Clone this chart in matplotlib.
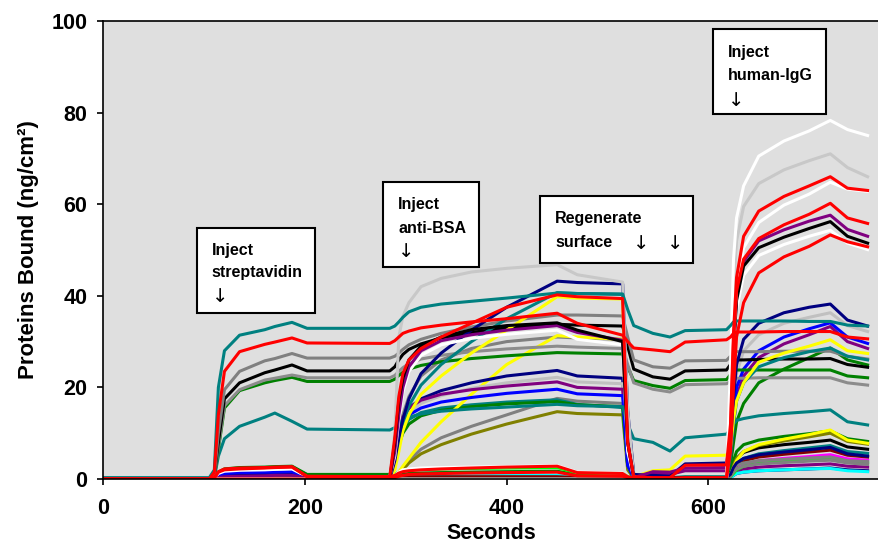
import matplotlib
matplotlib.use("Agg")
import matplotlib.pyplot as plt
from matplotlib.patches import Rectangle

plt.rcParams['font.family'] = ['Liberation Sans', 'DejaVu Sans']
plt.rcParams['font.weight'] = 'bold'

# time grid (s) shared by all sensor traces
seconds = [0, 105, 110, 114, 120, 135, 160, 170, 187, 202,
           284, 289, 293, 297, 303, 315, 335, 365, 400, 450, 470, 515,
           520, 526, 545, 562, 577, 618,
           622, 625, 628, 635, 650, 675, 700, 721, 738, 758]

# traces (ng/cm2)
teal_a = [0.3, 0.3, 2, 20, 28, 31.4, 32.6, 33.3, 34.2, 32.9,
          32.9, 33.4, 34.3, 35.3, 36.5, 37.5, 38.2, 38.8, 39.5, 40.6, 40.5, 40.4,
          37, 33.5, 31.8, 31.0, 32.4, 32.6,
          33.5, 34.3, 34.5, 34.5, 34.5, 34.5, 34.4, 34.4, 33.6, 33.4]
red_a = [0, 0, 1.5, 14, 23.5, 27.8, 29.4, 29.9, 30.8, 29.7,
         29.6, 30.2, 31, 31.8, 32.3, 33, 33.6, 34.3, 35, 36.2, 34, 31.4,
         30, 28.6, 28.2, 27.8, 29.9, 30.4,
         31, 31.8, 32.1, 32.1, 32.1, 32.2, 32.2, 32.2, 31, 30.6]
gray_a = [0, 0, 1, 10, 19.5, 23.5, 25.8, 26.3, 27.4, 26.4,
          26.4, 26.8, 27.5, 28.3, 29.3, 30.5, 31.8, 33.2, 34.5, 35.8, 35.8, 35.6,
          31, 26, 24.5, 24.2, 25.8, 25.9,
          26.8, 27.5, 27.8, 27.8, 27.8, 27.9, 27.9, 27.9, 26.8, 26.2]
black_a = [0, 0, 0.8, 8, 17.5, 21, 23.2, 23.8, 24.9, 23.6,
           23.6, 24.5, 26, 27.2, 28.3, 29.5, 30.8, 32, 33, 33.8, 33.6, 33.4,
           29, 24, 22.3, 21.8, 23.6, 23.8,
           25, 25.8, 26, 26, 26.1, 26.2, 26.2, 26.3, 25, 24.4]
gray_b = [0, 0, 0.6, 7, 16, 19.5, 21.6, 22, 22.7, 22.1,
          22.1, 22.6, 23.5, 24.3, 25.2, 26.2, 27, 27.8, 28.4, 29, 28.8, 28.5,
          25, 21, 19.6, 19.0, 20.6, 20.8,
          21.3, 21.8, 22, 22, 22.1, 22.1, 22.1, 22.1, 21, 20.5]
green_a = [0, 0, 0.5, 6.5, 15.5, 19.3, 21, 21.5, 22.2, 21.3,
           21.3, 21.8, 22.6, 23.3, 24, 24.8, 25.6, 26.3, 26.9, 27.6, 27.5, 27.3,
           24.5, 21.5, 20.4, 19.8, 21.5, 21.7,
           22.8, 23.5, 23.8, 23.8, 23.8, 23.8, 23.8, 23.8, 22.5, 22.1]
teal_b = [0.2, 0, 0.3, 5, 8.8, 11.5, 13.5, 14.4, 12.6, 10.9,
          10.7, 11.2, 12, 12.8, 13.5, 14.2, 14.8, 15.3, 15.7, 16.3, 16, 15.8,
          12, 8.8, 8.0, 6.1, 9.0, 9.8,
          10.8, 12, 12.8, 13.2, 13.8, 14.3, 14.7, 15.1, 12.5, 11.8]
silver_a = [0, 0, 0, 0, 0, 0, 0, 0, 0, 0,
            0, 10, 31, 35.5, 38.5, 42, 43.8, 45.2, 46, 46.8, 44.6, 43,
            15, 0.5, 0, 0, 0, 0,
            22, 42, 52, 59.5, 64.5, 67.5, 69.5, 71, 68, 66]
white_a = [0, 0, 0, 0, 0, 0, 0, 0, 0, 0,
           0, 0, 0, 0, 0, 0, 0, 0, 0, 0, 0, 0,
           0, 0, 0, 0, 0, 0,
           25, 48, 57, 64, 70.5, 73.8, 76, 78.3, 76.3, 75]
navy_a = [0, 0, 0, 0, 0, 0, 0, 0, 0, 0,
          0, 4, 9, 13, 17.5, 23, 27.5, 32.5, 37.5, 43.2, 42.9, 42.6,
          15, 1, 0.8, 0.6, 3.3, 3.5,
          8, 18, 25, 30.5, 34, 36.3, 37.5, 38.2, 34.7, 33.4]
red_b = [0, 0, 0.3, 1.5, 2, 2.2, 2.4, 2.5, 2.6, 0.6,
         0.5, 9, 18, 23, 26, 28.5, 31, 34, 37.5, 40.2, 39.8, 39.4,
         8, 0.5, 0.3, 0.3, 3.0, 3.1,
         12, 32, 44, 53, 58.5, 61.7, 64, 66, 63.5, 63]
yellow_a = [0, 0, 0, 0, 0, 0, 0, 0, 0, 0,
            0, 2, 6, 10.5, 14, 18.5, 22.5, 27.5, 32.5, 39.8, 39.5, 39.3,
            10, 0.5, 1.8, 2.0, 5.0, 5.2,
            7, 13, 17, 21, 25.5, 27.5, 29, 30.4, 28, 27.4]
teal_c = [0, 0, 0, 0, 0, 0, 0, 0, 0, 0,
          0, 3, 8, 12, 16, 20.5, 25, 30, 35, 40.7, 40.5, 40.3,
          14, 0.5, 0.3, 0.3, 0.5, 0.5,
          5, 12, 17, 21, 24.5, 26.5, 27.8, 28.6, 26.8, 26]
black_b = [0, 0, 0, 0, 0, 0, 0, 0, 0, 0,
           0, 8, 17, 22, 26, 29, 31, 32.6, 33.5, 34.1, 32.5, 30,
           8, 0.3, 0.2, 0.2, 0.3, 0.3,
           10, 28, 39, 46.5, 50.5, 52.8, 54.7, 56.2, 53, 51.5]
purple_a = [0, 0, 0, 0.3, 0.5, 0.6, 0.7, 0.8, 0.8, 0.2,
            0.2, 6, 14, 20, 24.5, 28, 30.2, 31.5, 32.5, 33.5, 32, 30.3,
            8, 0.3, 1.6, 1.5, 2.4, 2.5,
            10, 28, 40, 47.5, 52, 54.4, 56.3, 57.6, 54.5, 53]
white_b = [0, 0, 0.2, 1.2, 1.7, 1.9, 2.0, 2.1, 2.2, 0.5,
           0.5, 5, 13, 19, 23.5, 27, 29.3, 30.7, 31.6, 32.5, 30.5, 29.3,
           6, 0.3, 0, 0, 0, 0,
           9, 26, 37, 44.5, 48.8, 51.2, 53, 54.3, 51.5, 50.1]
gray_c = [0, 0, 0, 0, 0, 0, 0, 0, 0, 0,
          0, 3, 9, 14, 18, 22.5, 26, 28.5, 30, 31, 30.8, 30.5,
          6, 0.3, 0.3, 0.3, 0.3, 0.3,
          1, 2, 3, 3.5, 4, 4.3, 4.6, 4.8, 4, 3.8]
yellow_b = [0, 0, 0, 0, 0, 0, 0, 0, 0, 0,
            0, 0.5, 1.5, 2.8, 4.5, 8, 12.5, 18.5, 25, 31.3, 31, 30.5,
            5, 0.3, 0.3, 0.3, 0.3, 0.3,
            1, 2.5, 4, 6, 7.5, 8.7, 9.7, 10.7, 8.5, 7.8]
navy_b = [0, 0, 0.1, 0.6, 0.9, 1.0, 1.1, 1.2, 1.2, 0.2,
          0.2, 5, 10, 13, 15.5, 17.5, 19.3, 21, 22.5, 23.7, 22.5, 22,
          4, 0.3, 0.2, 0.2, 0.3, 0.3,
          1, 2.5, 3.5, 4.5, 5.3, 5.9, 6.4, 6.9, 5.5, 5]
silver_b = [0, 0, 0, 0, 0, 0, 0, 0, 0, 0,
            0, 4, 9, 12, 14.5, 16.5, 18.2, 19.8, 21, 22.2, 21.2, 20.8,
            4, 0.2, 0, 0, 0, 0,
            7, 16, 23, 28, 31.5, 34, 35.3, 36.3, 33.5, 32.2]
purple_b = [0, 0, 0, 0, 0, 0, 0, 0, 0, 0,
            0, 5, 10.5, 13.5, 15.5, 17.2, 18.5, 19.5, 20.3, 21.2, 20, 19.6,
            4, 0.3, 1.2, 1.0, 1.8, 1.8,
            5, 12, 18, 22.5, 26.5, 29.5, 31.5, 33.3, 30, 28.5]
blue_a = [0, 0, 0.1, 0.8, 1.2, 1.4, 1.5, 1.5, 1.6, 0.3,
          0.3, 4.5, 9.5, 12, 14, 15.5, 16.8, 17.8, 18.7, 19.6, 18.6, 18.2,
          3, 0.2, 0.2, 0.2, 0.3, 0.3,
          6, 13, 20, 24, 28, 31, 32.8, 34.1, 31, 29.6]
teal_d = [0, 0, 0, 0, 0, 0, 0, 0, 0, 0,
          0, 4, 8.5, 11, 13, 14.5, 15.5, 16.2, 16.8, 17.3, 16.3, 15.6,
          3, 0.3, 0.3, 0.3, 0.3, 0.3,
          1, 2.5, 3.5, 4.5, 5.5, 6.2, 6.8, 7.3, 6, 5.6]
green_b = [0, 0, 0.2, 1.5, 2.2, 2.5, 2.6, 2.7, 2.8, 1.0,
           1.0, 3.5, 7.5, 10, 12, 13.8, 15, 15.8, 16.4, 16.9, 16.2, 15.8,
           3, 0.3, 0.3, 0.3, 0.3, 0.3,
           3, 8, 12.5, 16.5, 21, 24, 26.5, 28.6, 26, 24.9]
gray_d = [0, 0, 0, 0, 0, 0, 0, 0, 0, 0,
          0, 0.5, 1.5, 2.5, 4, 6.5, 9, 11.5, 14, 17.6, 17, 16.5,
          3, 0.3, 0.3, 0.3, 0.3, 0.3,
          0.5, 1.5, 2.2, 2.8, 3.3, 3.6, 3.9, 4.1, 3.5, 3.2]
olive_a = [0, 0, 0, 0.1, 0.2, 0.3, 0.3, 0.4, 0.4, 0.1,
           0.1, 0.3, 1, 2, 3.5, 5.5, 7.5, 9.8, 12, 14.7, 14.3, 14,
           2, 0.2, 0.2, 0.2, 0.4, 0.4,
           1, 3, 4.5, 6, 7.3, 8.3, 9.2, 10, 8.2, 7.6]
lime_a = [0, 0, 0.2, 1.4, 2.1, 2.4, 2.5, 2.6, 2.7, 0.9,
          0.9, 1.0, 1.5, 1.8, 2.0, 2.1, 2.2, 2.3, 2.4, 2.5, 1.3, 1.2,
          0.5, 0.2, 0.2, 0.2, 0.3, 0.3,
          0.5, 1.2, 2, 2.8, 3.4, 3.8, 4.1, 4.5, 3.8, 3.5]
red_c = [0, 0, 0.3, 1.6, 2.2, 2.4, 2.5, 2.6, 2.7, 0.5,
         0.5, 0.8, 1.3, 1.6, 1.8, 2.0, 2.2, 2.4, 2.6, 2.8, 1.4, 1.2,
         0.5, 0.2, 0.2, 0.2, 0.3, 0.3,
         10, 30, 41, 48, 52.5, 55.5, 57.8, 60.2, 57, 55.8]
red_d = [0, 0, 0, 0, 0, 0, 0, 0, 0, 0,
         0, 0.3, 0.6, 0.8, 1, 1.1, 1.2, 1.3, 1.4, 1.5, 0.7, 0.6,
         0.3, 0.1, 0.1, 0.1, 0.1, 0.1,
         6, 20, 31, 38.5, 45, 48.5, 50.8, 53.3, 51.8, 50.7]
white_c = [0, 0, 0, 0, 0, 0, 0, 0, 0, 0,
           0, 0.8, 1.5, 2.0, 2.2, 2.4, 2.5, 2.6, 2.7, 2.9, 1.5, 1.3,
           0.3, 0, 0, 0, 0, 0,
           11, 30, 42, 50.5, 56, 59.8, 62.2, 64.8, 63.3, 62.8]
maroon_a = [0, 0, 0, 0, 0, 0, 0, 0, 0, 0,
            0, 0.2, 0.3, 0.4, 0.5, 0.5, 0.5, 0.5, 0.5, 0.5, 0.3, 0.3,
            0.1, 0, 0, 0, 0, 0,
            1, 2, 3, 4, 4.8, 5.4, 5.9, 6.3, 5.2, 4.8]
magenta_a = [0, 0, 0, 0, 0, 0, 0, 0, 0, 0,
             0, 0, 0, 0, 0, 0, 0, 0, 0, 0, 0, 0,
             0, 0, 0, 0, 0, 0,
             0.8, 1.8, 2.6, 3.2, 4, 4.5, 4.9, 5.3, 4.4, 4.1]
cyan_a = [0, 0, 0, 0, 0, 0, 0, 0, 0, 0,
          0, 0.2, 0.4, 0.5, 0.6, 0.6, 0.7, 0.7, 0.8, 0.8, 0.4, 0.4,
          0.2, 0, 0, 0, 0, 0,
          0.3, 0.8, 1.2, 1.5, 1.8, 2.0, 2.2, 2.3, 1.8, 1.6]
black_c = [0, 0, 0, 0, 0, 0, 0, 0, 0, 0,
           0, 0, 0, 0, 0, 0, 0, 0, 0, 0, 0, 0,
           0, 0, 0, 0, 0, 0,
           1.5, 3, 4.5, 5.8, 6.8, 7.5, 8, 8.5, 7, 6.5]
green_c = [0, 0, 0, 0, 0, 0, 0, 0, 0, 0,
           0, 0.4, 0.8, 1, 1.2, 1.3, 1.4, 1.5, 1.6, 1.7, 0.9, 0.8,
           0.3, 0.1, 0.1, 0.1, 0.1, 0.1,
           1.5, 4, 6, 7.5, 8.5, 9.3, 9.9, 10.5, 8.8, 8.2]
purple_c = [0, 0, 0, 0, 0, 0, 0, 0, 0, 0,
            0, 0, 0, 0, 0, 0, 0, 0, 0, 0, 0, 0,
            0, 0, 0, 0, 0, 0,
            0.5, 1.2, 1.8, 2.2, 2.6, 2.9, 3.1, 3.3, 2.8, 2.6]
navy_c = [0, 0, 0, 0, 0, 0, 0, 0, 0, 0,
          0, 0, 0, 0, 0, 0, 0, 0, 0, 0, 0, 0,
          0, 0, 0, 0, 0, 0,
          0.3, 0.8, 1.2, 1.5, 1.8, 2.0, 2.2, 2.4, 2.0, 1.8]

# drawing order: small traces first, big ones on top
series = [
    (navy_c, '#000080'), (purple_c, '#800080'), (cyan_a, '#00ffff'),
    (magenta_a, '#ff00ff'), (maroon_a, '#800000'), (black_c, '#000000'),
    (green_c, '#008000'), (lime_a, '#00ff00'), (gray_d, '#808080'),
    (olive_a, '#808000'), (teal_d, '#008080'), (green_b, '#008000'),
    (gray_c, '#808080'), (yellow_b, '#ffff00'), (navy_b, '#000080'),
    (silver_b, '#c0c0c0'), (purple_b, '#800080'), (blue_a, '#0000ff'),
    (teal_b, '#008080'), (green_a, '#008000'), (gray_b, '#8c8c8c'),
    (black_a, '#000000'), (gray_a, '#808080'), (teal_c, '#008080'),
    (yellow_a, '#ffff00'), (navy_a, '#000080'), (silver_a, '#c8c8c8'),
    (white_b, '#ffffff'), (purple_a, '#800080'), (black_b, '#000000'),
    (white_c, '#ffffff'), (white_a, '#ffffff'), (teal_a, '#008080'),
    (red_d, '#ff0000'), (red_c, '#ff0000'), (red_a, '#ff0000'),
    (red_b, '#ff0000'),
]

fig = plt.figure(figsize=(8.79, 5.47), dpi=100)
ax = fig.add_axes([0.1177, 0.1243, 0.8823, 0.8373])
ax.set_facecolor('#dfdfdf')

for vals, col in series:
    ax.plot(seconds, vals, color=col, lw=2.2, solid_joinstyle='round')

ax.set_xlim(0, 769.3)
ax.set_ylim(0, 100)
ax.set_xticks([0, 200, 400, 600])
ax.set_yticks([0, 20, 40, 60, 80, 100])
ax.tick_params(direction='out', length=4.5, width=1.2, labelsize=15.5)
ax.tick_params(axis='y', pad=7)
ax.tick_params(axis='x', pad=9)
for sp in ax.spines.values():
    sp.set_linewidth(1.2)
ax.set_xlabel('Seconds', fontsize=15.5, fontweight='bold', labelpad=3)
ax.set_ylabel('Proteins Bound (ng/cm²)', fontsize=16, fontweight='bold', labelpad=9)

# annotation boxes: (x0, y0, x1, y1)
boxes = [(92.8, 36.2, 209.8, 54.8), (277.3, 46.3, 372.5, 64.8),
         (433, 47.2, 584.8, 61.8), (604.7, 79.7, 716.8, 98.3)]
for x0, y0, x1, y1 in boxes:
    ax.add_patch(Rectangle((x0, y0), x1 - x0, y1 - y0, facecolor='white',
                           edgecolor='black', lw=1.5, zorder=5))

labels = [(107.6, 48.9, 'Inject'), (107.6, 44.1, 'streptavidin'),
          (292.2, 58.9, 'Inject'), (292.2, 53.8, 'anti-BSA'),
          (447.9, 55.8, 'Regenerate'), (447.9, 50.6, 'surface'),
          (619.3, 92.2, 'Inject'), (619.3, 87.1, 'human-IgG')]
for x, y, s in labels:
    ax.text(x, y, s, fontsize=11.5, fontweight='bold', va='baseline', zorder=6)

arrows = [(107.6, 38.6), (292.2, 48.5), (525.3, 50.3), (559, 50.3), (619.3, 81.4)]
for x, y in arrows:
    ax.text(x, y, '↓', fontsize=14, fontweight='normal', family='DejaVu Sans',
            va='baseline', zorder=6)

fig.savefig('out.png', dpi=100)
